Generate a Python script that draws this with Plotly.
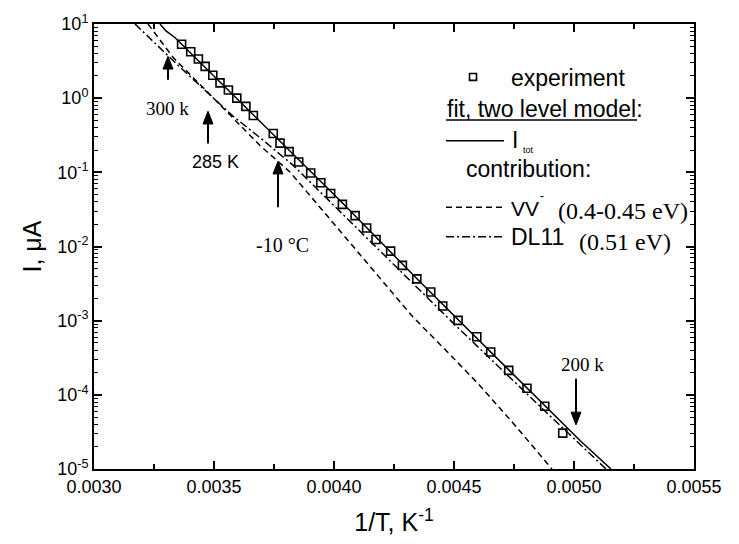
import plotly.graph_objects as go

# ---------------- data ----------------
exp_x = [0.003365, 0.003403, 0.003435, 0.003463, 0.003495, 0.003525, 0.003560, 0.003595,
         0.003633, 0.003664, 0.003747, 0.003775, 0.003813, 0.003853, 0.003903, 0.003945,
         0.003986, 0.004035, 0.004088, 0.004136, 0.004175, 0.004236, 0.004285, 0.004345,
         0.004403, 0.004453, 0.004517, 0.004595, 0.004653, 0.004728, 0.004804, 0.004878,
         0.004953]
exp_y = [5.33, 4.23, 3.37, 2.68, 2.04, 1.61, 1.29, 1.00,
         0.776, 0.585, 0.334, 0.248, 0.190, 0.138, 0.0980, 0.0723,
         0.0518, 0.0370, 0.0261, 0.0178, 0.0124, 0.00867, 0.00556, 0.00366,
         0.00244, 0.00158, 0.00101, 0.000608, 0.000378, 0.000214, 0.0001225, 7.01e-5,
         3.05e-5]

tot_x = [0.003275, 0.003300, 0.003338, 0.003367, 0.003692, 0.004025, 0.004358, 0.004692,
         0.005025, 0.005154]
tot_y = [10.0, 8.08, 6.53, 5.28, 0.477, 0.0418, 0.00334, 2.84e-4, 2.42e-5, 1.0e-5]

dl_x = [0.0031708, 0.0033583, 0.0035792, 0.0036917, 0.0038292, 0.004025, 0.0042458,
        0.0045042, 0.0048708, 0.0051333]
dl_y = [10.0, 2.62, 0.573, 0.293, 0.125, 0.0299, 0.00578, 8.77e-4, 6.40e-5, 1.0e-5]

vv_x = [0.003225, 0.0033292, 0.0034833, 0.00365, 0.0036917, 0.0038167, 0.0040542,
        0.0041917, 0.0043292, 0.0044708, 0.0046083, 0.0047458, 0.0049083]
vv_y = [10.0, 3.55, 1.118, 0.311, 0.2298, 0.1010, 0.01238, 0.00366, 0.001118, 3.85e-4,
        1.329e-4, 4.18e-5, 1.0e-5]

x_ticks = [0.0030, 0.0035, 0.0040, 0.0045, 0.0050, 0.0055]
x_ticktext = ["0.0030", "0.0035", "0.0040", "0.0045", "0.0050", "0.0055"]
y_exps = [-5, -4, -3, -2, -1, 0, 1]

# ---------------- layout helpers ----------------
W, H = 739, 544
L, R, T, B = 94, 694, 16, 470


def px(x):
    return (x - L) / (R - L)


def py(y):
    return (B - y) / (B - T)


SANS = "Liberation Sans, Arial, sans-serif"
SERIF = "Liberation Serif, Times New Roman, serif"
DASH = "6px,4px"
DASHDOT = "8px,3px,2px,3px"

fig = go.Figure()
fig.add_trace(go.Scatter(x=vv_x, y=vv_y, mode="lines",
                         line=dict(color="black", width=1.5, dash=DASH),
                         showlegend=False, hoverinfo="skip"))
fig.add_trace(go.Scatter(x=dl_x, y=dl_y, mode="lines",
                         line=dict(color="black", width=1.5, dash=DASHDOT),
                         showlegend=False, hoverinfo="skip"))
fig.add_trace(go.Scatter(x=tot_x, y=tot_y, mode="lines",
                         line=dict(color="black", width=1.5),
                         showlegend=False, hoverinfo="skip"))
fig.add_trace(go.Scatter(x=exp_x, y=exp_y, mode="markers",
                         marker=dict(symbol="square-open", size=8, color="black",
                                     line=dict(width=1.6, color="black")),
                         showlegend=False))

y_ticks = [10.0 ** e for e in y_exps]
y_ticktext = ["10<sup>%d</sup>" % e for e in y_exps]
y_minor = [m * 10.0 ** e for e in y_exps[:-1] for m in range(2, 10)]

fig.update_layout(
    width=W, height=H,
    margin=dict(l=L, r=W - R, t=T, b=H - B, pad=0),
    paper_bgcolor="white", plot_bgcolor="white",
    font=dict(family=SANS, color="black", size=18),
    xaxis=dict(range=[0.003, 0.0055], tickmode="array", tickvals=x_ticks,
               ticktext=x_ticktext, ticks="inside", ticklen=8, tickwidth=1.5,
               tickcolor="black", showline=True, linecolor="black", linewidth=2,
               mirror="allticks", showgrid=False, zeroline=False,
               tickfont=dict(size=18),
               minor=dict(ticks="inside", ticklen=5, tickwidth=1.5, dtick=0.00025,
                          tickcolor="black", showgrid=False),
               title=dict(text="1/T, K<sup>-1</sup>", font=dict(size=25), standoff=18)),
    yaxis=dict(type="log", range=[-5, 1], tickmode="array", tickvals=y_ticks,
               ticktext=y_ticktext, ticks="inside", ticklen=8, tickwidth=1.5,
               tickcolor="black", showline=True, linecolor="black", linewidth=2,
               mirror="allticks", showgrid=False, zeroline=False,
               tickfont=dict(size=18),
               minor=dict(ticks="inside", ticklen=4, tickwidth=1.2, tickmode="array",
                          tickvals=y_minor, tickcolor="black", showgrid=False),
               title=dict(text="I, μA", font=dict(size=25), standoff=8)),
)

ann = []
shapes = []


def text(x, y, s, fam=SANS, size=23, anchor="left"):
    ann.append(dict(xref="paper", yref="paper", x=px(x), y=py(y), text=s,
                    showarrow=False, xanchor=anchor, yanchor="middle",
                    font=dict(family=fam, size=size, color="black")))


# vertical arrows (shape line + filled triangle head)
def arrow(xp, tip, tail, label, lx, ly, fam, size):
    d = 1 if tail > tip else -1          # +1: arrow points up
    head = 13
    half = 5
    shapes.append(dict(type="line", xref="paper", yref="paper",
                       x0=px(xp), x1=px(xp), y0=py(tail), y1=py(tip + d * head - d),
                       line=dict(color="black", width=2)))
    path = "M %f,%f L %f,%f L %f,%f Z" % (
        px(xp), py(tip),
        px(xp - half), py(tip + d * head),
        px(xp + half), py(tip + d * head))
    shapes.append(dict(type="path", xref="paper", yref="paper", path=path,
                       fillcolor="black", line=dict(color="black", width=1)))
    text(lx, ly, label, fam=fam, size=size, anchor="center")


arrow(168, 49, 73, "300 k", 167, 102, SERIF, 19)
arrow(208, 105, 138, "285 K", 215, 157, SANS, 18)
arrow(278, 156, 203, "-10 °C", 282, 241, SERIF, 20)
arrow(576, 425, 378, "200 k", 582, 363, SERIF, 19)

# legend block
shapes.append(dict(type="rect", xref="paper", yref="paper",
                   x0=px(469.5), x1=px(476.5), y0=py(73.5), y1=py(66.5),
                   line=dict(color="black", width=1.6)))
text(509, 71, "experiment")
text(445, 103, "fit, two level model:")
shapes.append(dict(type="line", xref="paper", yref="paper",
                   x0=px(446), x1=px(637), y0=py(114), y1=py(114),
                   line=dict(color="black", width=1.5)))
shapes.append(dict(type="line", xref="paper", yref="paper",
                   x0=px(446), x1=px(504), y0=py(135), y1=py(135),
                   line=dict(color="black", width=1.5)))
text(510, 134, "I")
text(521, 145, "tot", size=9)
text(464, 164, "contribution:")
shapes.append(dict(type="line", xref="paper", yref="paper",
                   x0=px(446), x1=px(504), y0=py(203), y1=py(203),
                   line=dict(color="black", width=1.5, dash=DASH)))
text(509, 204, "VV", size=21)
text(538, 191, "-", size=12)
text(556, 207, "(0.4-0.45 eV)", fam=SERIF, size=24)
shapes.append(dict(type="line", xref="paper", yref="paper",
                   x0=px(446), x1=px(504), y0=py(233), y1=py(233),
                   line=dict(color="black", width=1.5, dash=DASHDOT)))
text(509, 233, "DL11")
text(577, 238, "(0.51 eV)", fam=SERIF, size=24)

fig.update_layout(annotations=ann, shapes=shapes)
fig.write_html("out.html")
